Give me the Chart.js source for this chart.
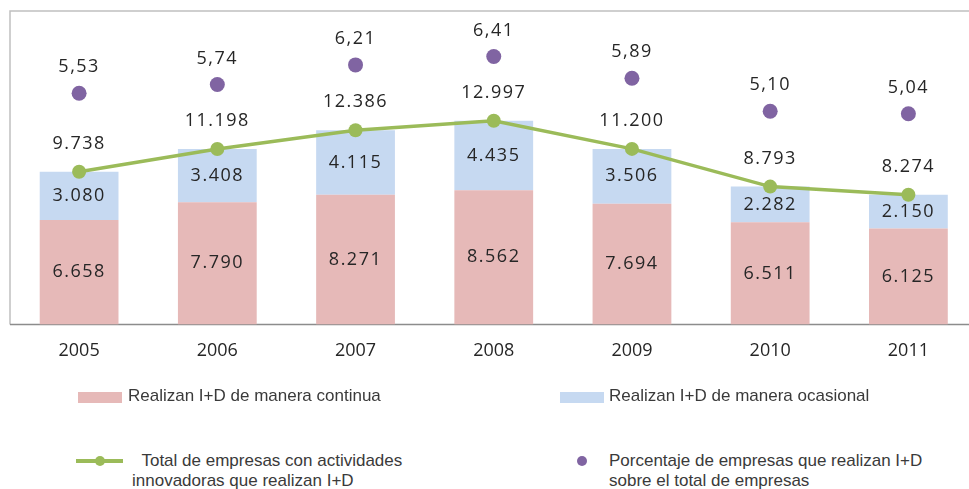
<!DOCTYPE html>
<html>
<head>
<meta charset="utf-8">
<script src="https://cdn.jsdelivr.net/npm/chart.js@4.4.0/dist/chart.umd.min.js"></script>
<style>
  html, body { margin: 0; padding: 0; background: #fff; overflow: hidden; }
  body { width: 969px; height: 489px; position: relative; }
  #wrap { position: absolute; left: 0; top: 0; width: 985px; height: 388px; }
  .leg { position: absolute; font-family: "Liberation Sans", Arial, sans-serif; font-size: 17px; color: #3a3a3a; line-height: 20px; white-space: nowrap; }
  .sw { position: absolute; }
</style>
</head>
<body>
<div id="wrap"><canvas id="chart"></canvas></div>

<!-- legend -->
<div class="sw" style="left:78px; top:392px; width:44px; height:11px; background:#e6b9b8;"></div>
<div class="leg" style="left:128px; top:386px;">Realizan I+D de manera continua</div>
<div class="sw" style="left:560px; top:392px; width:44px; height:11px; background:#c6d9f1;"></div>
<div class="leg" style="left:609px; top:386px;">Realizan I+D de manera ocasional</div>

<div class="sw" style="left:76px; top:459px; width:47px; height:4px; background:#9bbb59;"></div>
<div class="sw" style="left:95px; top:456px; width:10px; height:10px; border-radius:50%; background:#9bbb59;"></div>
<div class="leg" style="left:132px; top:451px;">&nbsp;&nbsp;Total de empresas con actividades<br>innovadoras que realizan I+D</div>
<div class="sw" style="left:577px; top:456px; width:10px; height:10px; border-radius:50%; background:#8064a2;"></div>
<div class="leg" style="left:609px; top:451px;">Porcentaje de empresas que realizan I+D<br>sobre el total de empresas</div>

<script>
// data
const years = ['2005', '2006', '2007', '2008', '2009', '2010', '2011'];
const continua = [6658, 7790, 8271, 8562, 7694, 6511, 6125];
const ocasional = [3080, 3408, 4115, 4435, 3506, 2282, 2150];
const total = [9738, 11198, 12386, 12997, 11200, 8793, 8274];
const porcentaje = [5.53, 5.74, 6.21, 6.41, 5.89, 5.10, 5.04];

function fmtInt(v) {
  return String(v).replace(/\B(?=(\d{3})+(?!\d))/g, '.');
}
function fmtPct(v) {
  return v.toFixed(2).replace('.', ',');
}

// frame around plot area
const framePlugin = {
  id: 'frame',
  beforeDatasetsDraw(chart) {
    const a = chart.chartArea;
    const c = chart.ctx;
    c.save();
    c.lineWidth = 1.5;
    c.strokeStyle = '#c0c0c0';
    c.beginPath();
    c.moveTo(a.left, a.bottom);
    c.lineTo(a.left, a.top);
    c.lineTo(a.right, a.top);
    c.lineTo(a.right, a.bottom);
    c.stroke();
    c.strokeStyle = '#8c8c8c';
    c.beginPath();
    c.moveTo(a.left, a.bottom);
    c.lineTo(a.right, a.bottom);
    c.stroke();
    c.restore();
  }
};

// value labels
const labelPlugin = {
  id: 'labels',
  afterDatasetsDraw(chart) {
    const c = chart.ctx;
    c.save();
    c.font = '18px "Open Sans"';
    c.letterSpacing = '1.5px';
    c.fillStyle = '#262626';
    c.textAlign = 'center';
    c.textBaseline = 'middle';
    chart.data.datasets.forEach((ds, i) => {
      const meta = chart.getDatasetMeta(i);
      meta.data.forEach((el, j) => {
        const v = ds.data[j];
        if (ds.type === 'bar') {
          c.fillText(fmtInt(v), el.x, (el.y + el.base) / 2);
        } else if (ds.label.startsWith('Total')) {
          c.fillText(fmtInt(v), el.x, el.y - 28);
        } else {
          c.fillText(fmtPct(v), el.x, el.y - 26);
        }
      });
    });
    c.restore();
  }
};

const ctx = document.getElementById('chart').getContext('2d');
new Chart(ctx, {
  data: {
    labels: years,
    datasets: [
      { type: 'line', label: 'Porcentaje de empresas que realizan I+D sobre el total de empresas', data: porcentaje, yAxisID: 'yPct',
        showLine: false, pointRadius: 7.5, pointHoverRadius: 7.5, pointBackgroundColor: '#8064a2', pointBorderWidth: 0, order: 0 },
      { type: 'line', label: 'Total de empresas con actividades innovadoras que realizan I+D', data: total, yAxisID: 'yTot',
        borderColor: '#9bbb59', borderWidth: 3.5, pointRadius: 7, pointHoverRadius: 7, pointBackgroundColor: '#9bbb59', pointBorderWidth: 0, order: 1 },
      { type: 'bar', label: 'Realizan I+D de manera continua', data: continua, yAxisID: 'y', backgroundColor: '#e6b9b8', order: 2 },
      { type: 'bar', label: 'Realizan I+D de manera ocasional', data: ocasional, yAxisID: 'y', backgroundColor: '#c6d9f1', order: 2 }
    ]
  },
  options: {
    responsive: true,
    maintainAspectRatio: false,
    animation: false,
    datasets: { bar: { barPercentage: 0.57, categoryPercentage: 1 } },
    layout: { padding: { left: 10, top: 11, right: 7, bottom: 10 } },
    plugins: { legend: { display: false }, tooltip: { enabled: false } },
    scales: {
      x: {
        stacked: true,
        grid: { display: false, drawTicks: false },
        border: { display: false },
        ticks: { font: { family: 'Open Sans', size: 18 }, color: '#262626', padding: 16 }
      },
      y: { stacked: true, display: false, min: 0, max: 20000 },
      yTot: { display: false, min: 0, max: 20000 },
      yPct: { display: false, min: 0, max: 7.5 }
    }
  },
  plugins: [framePlugin, labelPlugin]
});
</script>
</body>
</html>
